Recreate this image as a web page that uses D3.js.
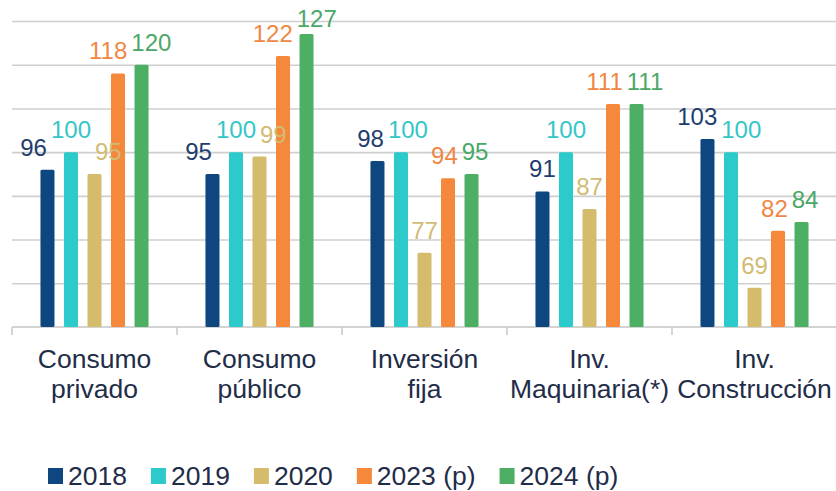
<!DOCTYPE html>
<html>
<head>
<meta charset="utf-8">
<script src="https://cdn.jsdelivr.net/npm/d3@7"></script>
<style>
  html, body { margin: 0; padding: 0; background: #ffffff; }
  svg { display: block; }
  text { font-family: "Liberation Sans", Arial, sans-serif; }
</style>
</head>
<body>
<svg id="chart" width="836" height="491"></svg>
<script>
// Categories (two-line labels) and yearly series values
const categories = ["Consumo privado", "Consumo público", "Inversión fija", "Inv. Maquinaria(*)", "Inv. Construcción"];
const categoryLines = [
  ["Consumo", "privado"],
  ["Consumo", "público"],
  ["Inversión", "fija"],
  ["Inv.", "Maquinaria(*)"],
  ["Inv.", "Construcción"]
];
const seriesNames = ["2018", "2019", "2020", "2023 (p)", "2024 (p)"];
const values2018 = [96, 95, 98, 91, 103];
const values2019 = [100, 100, 100, 100, 100];
const values2020 = [95, 99, 77, 87, 69];
const values2023 = [118, 122, 94, 111, 82];
const values2024 = [120, 127, 95, 111, 84];
const yTicks = [60, 70, 80, 90, 100, 110, 120, 130];

const seriesValues = [values2018, values2019, values2020, values2023, values2024];
const barColors = ["#0e4680", "#2ccaca", "#d5bb6c", "#f5883a", "#4caf64"];
const labelColors = ["#1e3d6e", "#34c6c7", "#d2bb74", "#ef8744", "#4aa867"];

const svg = d3.select("#chart");
const plot = { left: 12, right: 837, top: 21, bottom: 327 };

const x0 = d3.scaleBand()
  .domain(categories)
  .range([plot.left, plot.right])
  .paddingInner(0.345)
  .paddingOuter(0.1725);

const x1 = d3.scaleBand()
  .domain(seriesNames)
  .range([0, x0.bandwidth()])
  .paddingInner(0.404)
  .paddingOuter(0);

const y = d3.scaleLinear()
  .domain([yTicks[0], yTicks[yTicks.length - 1]])
  .range([plot.bottom, plot.top]);

// Horizontal gridlines
const grid = svg.append("g")
  .attr("transform", `translate(${plot.left},0)`)
  .call(d3.axisLeft(y).tickValues(yTicks.slice(1)).tickSize(-(plot.right - plot.left)).tickFormat(""));
grid.select(".domain").remove();
grid.selectAll(".tick line").attr("stroke", "#cfcfcf").attr("stroke-width", 1.6);

// Baseline and category separators
svg.append("line")
  .attr("x1", plot.left).attr("x2", plot.right)
  .attr("y1", y(yTicks[0])).attr("y2", y(yTicks[0]))
  .attr("stroke", "#c4c4c4").attr("stroke-width", 1.6);

const step = x0.step();
const boundaries = categories.map(c => x0(c) - (step - x0.bandwidth()) / 2);
svg.append("g").selectAll("line")
  .data(boundaries)
  .join("line")
  .attr("x1", d => d).attr("x2", d => d)
  .attr("y1", y(yTicks[0])).attr("y2", y(yTicks[0]) + 8)
  .attr("stroke", "#c4c4c4").attr("stroke-width", 1.4);

// Bars
const groups = svg.append("g").selectAll("g")
  .data(categories)
  .join("g")
  .attr("transform", c => `translate(${x0(c)},0)`);

groups.selectAll("rect")
  .data((c, ci) => seriesNames.map((s, si) => ({ s, si, v: seriesValues[si][ci] })))
  .join("rect")
  .attr("x", d => x1(d.s))
  .attr("width", x1.bandwidth())
  .attr("y", d => y(d.v))
  .attr("height", d => y(yTicks[0]) - y(d.v))
  .attr("rx", 1.5)
  .attr("fill", d => barColors[d.si]);

// Value labels, centred over each bar, then spread sideways where they collide
groups.each(function (c, ci) {
  const g = d3.select(this);
  const labels = seriesNames.map((s, si) => {
    const v = seriesValues[si][ci];
    const base = Math.max(y(v) - 14, 27);
    const t = g.append("text")
      .attr("class", "value")
      .attr("text-anchor", "middle")
      .attr("font-size", 24)
      .attr("fill", labelColors[si])
      .attr("y", base)
      .text(v);
    const w = t.node().getComputedTextLength();
    return { t, cx: x1(s) + x1.bandwidth() / 2, w, top: base - 22, bottom: base + 3 };
  });
  for (let iter = 0; iter < 20; iter++) {
    for (let i = 0; i < labels.length - 1; i++) {
      const a = labels[i], b = labels[i + 1];
      const vOverlap = Math.min(a.bottom, b.bottom) - Math.max(a.top, b.top);
      if (vOverlap <= 0) continue;
      const need = (a.w + b.w) / 2 + 4;
      const gap = b.cx - a.cx;
      if (gap < need) {
        const push = (need - gap) / 2;
        a.cx -= push;
        b.cx += push;
      }
    }
  }
  labels.forEach(l => l.t.attr("x", l.cx));
});

// Category labels
const catLabels = svg.append("g").selectAll("text")
  .data(categories)
  .join("text")
  .attr("text-anchor", "middle")
  .attr("font-size", 26.5)
  .attr("fill", "#1f2d48")
  .attr("x", c => x0(c) + x0.bandwidth() / 2);
catLabels.selectAll("tspan")
  .data((c, i) => categoryLines[i])
  .join("tspan")
  .attr("x", function () { return this.parentNode.getAttribute("x"); })
  .attr("y", (d, i) => 368 + i * 30)
  .text(d => d);

// Legend
const legend = svg.append("g");
let lx = 48;
seriesNames.forEach((s, i) => {
  legend.append("rect")
    .attr("x", lx).attr("y", 468)
    .attr("width", 15).attr("height", 16)
    .attr("fill", barColors[i]);
  const t = legend.append("text")
    .attr("x", lx + 20).attr("y", 485)
    .attr("font-size", 26.5)
    .attr("fill", "#1f2d48")
    .text(s);
  lx += 20 + t.node().getComputedTextLength() + 24;
});
</script>
</body>
</html>
